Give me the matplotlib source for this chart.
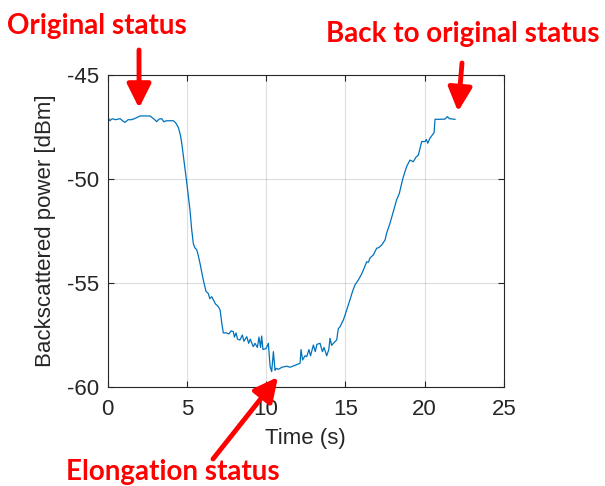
import matplotlib
matplotlib.use('Agg')
import matplotlib.pyplot as plt

# time (s) and backscattered power (dBm)
t = [0.0, 0.15, 0.3, 0.5, 0.79, 0.95, 1.1, 1.3, 1.5, 1.7, 1.84, 2.05, 2.3, 2.68, 2.9,
     3.1, 3.25, 3.42, 3.55, 3.7, 4.15, 4.3, 4.47, 4.6, 4.68, 4.85, 5.0, 5.2, 5.31, 5.41,
     5.5, 5.62, 5.7, 5.83, 5.95, 6.04, 6.21, 6.35, 6.45, 6.57, 6.67, 6.8, 6.99, 7.1, 7.2,
     7.3, 7.5, 7.65, 7.8, 7.93, 8.0, 8.1, 8.2, 8.35, 8.5, 8.6, 8.78, 8.9, 9.0, 9.19,
     9.3, 9.45, 9.55, 9.65, 9.72, 9.8, 10.0, 10.14, 10.25, 10.35, 10.46, 10.56, 10.65,
     10.77, 11.0, 11.3, 11.5, 11.72, 12.0, 12.14, 12.2, 12.3, 12.45, 12.56, 12.7, 12.8,
     12.98, 13.1, 13.2, 13.4, 13.55, 13.65, 13.82, 13.95, 14.03, 14.13, 14.24, 14.45,
     14.55, 14.66, 14.87, 15.08, 15.29, 15.45, 15.6, 15.81, 16.0, 16.13, 16.34, 16.45,
     16.55, 16.76, 16.97, 17.1, 17.29, 17.5, 17.6, 17.81, 18.02, 18.23, 18.4, 18.55,
     18.65, 18.86, 19.07, 19.28, 19.45, 19.6, 19.81, 20.02, 20.1, 20.19, 20.33, 20.59,
     20.65, 20.96, 21.28, 21.43, 21.55, 21.91]
p = [-47.0, -47.2, -47.1, -47.15, -47.1, -47.2, -47.28, -47.15, -47.15, -47.1, -47.05,
     -46.97, -46.97, -46.97, -47.1, -47.24, -47.12, -47.1, -47.25, -47.2, -47.2, -47.3,
     -47.53, -47.9, -48.28, -49.3, -50.2, -51.5, -52.45, -53.1, -53.3, -53.4, -53.6,
     -54.05, -54.5, -54.86, -55.4, -55.5, -55.75, -55.66, -55.8, -56.0, -56.14, -56.3,
     -56.9, -57.4, -57.4, -57.45, -57.3, -57.34, -57.6, -57.4, -57.7, -57.74, -57.5,
     -57.8, -57.58, -57.9, -57.7, -58.06, -57.9, -58.1, -57.6, -58.1, -57.55, -58.2,
     -58.15, -57.9, -59.0, -59.26, -58.3, -59.2, -59.1, -59.15, -59.05, -59.0, -59.05,
     -58.99, -58.9, -58.86, -58.2, -58.7, -58.5, -58.54, -58.2, -58.5, -57.98, -58.3,
     -57.95, -57.9, -58.3, -58.1, -58.5, -58.2, -57.66, -58.0, -57.9, -57.74, -57.2,
     -57.1, -56.78, -56.3, -55.8, -55.4, -55.1, -54.86, -54.6, -54.38, -53.98, -54.0,
     -53.8, -53.65, -53.33, -53.3, -53.17, -52.93, -52.6, -52.13, -51.57, -51.0, -50.69,
     -50.2, -49.9, -49.4, -49.09, -49.17, -48.95, -48.85, -48.2, -48.2, -48.1, -48.28,
     -48.04, -47.77, -47.13, -47.13, -47.12, -47.0, -47.1, -47.13]

xticks = [0, 5, 10, 15, 20, 25]
yticks = [-60, -55, -50, -45]

plt.rcParams['font.family'] = 'Liberation Sans'
plt.rcParams['axes.unicode_minus'] = False
fig = plt.figure(figsize=(6.05, 4.86), dpi=100)
ax = fig.add_axes([0.1777, 0.2037, 0.6554, 0.642])
ax.plot(t, p, color='#0072BD', lw=0.9)
ax.set_xlim(0, 25)
ax.set_ylim(-60, -45)
ax.set_xticks(xticks)
ax.set_yticks(yticks)
ax.grid(True, color='#262626', alpha=0.15, lw=0.8)
ax.tick_params(direction='in', top=True, right=True, labelsize=16, colors='#262626',
               length=4, width=0.8)
ax.tick_params(axis='x', pad=8.5)
ax.tick_params(axis='y', pad=6)
for s in ax.spines.values():
    s.set_color('#262626')
    s.set_linewidth(0.8)
ax.set_xlabel('Time (s)', fontsize=16, color='#262626', labelpad=6)
ax.set_ylabel('Backscattered power [dBm]', fontsize=16, color='#262626', labelpad=8)

red = '#FF0000'
lab = dict(color=red, fontsize=20, fontweight='bold', family='Lato')
fig.text(97 / 605, 1 - 34 / 486, 'Original status', ha='center', va='baseline', **lab)
fig.text(463 / 605, 1 - 42 / 486, 'Back to original status', ha='center', va='baseline', **lab)
fig.text(173 / 605, 1 - 480 / 486, 'Elongation status', ha='center', va='baseline', **lab)

arr = dict(arrowstyle='-|>,head_length=0.9,head_width=0.45', color=red, lw=3.5,
           shrinkA=0, shrinkB=0, mutation_scale=16)
ax.annotate('', xy=(1.99, -46.59), xycoords='data', xytext=(139, 486 - 50),
            textcoords='figure pixels', arrowprops=arr)
ax.annotate('', xy=(22.1, -46.76), xycoords='data', xytext=(462, 486 - 63),
            textcoords='figure pixels', arrowprops=arr)
ax.annotate('', xy=(10.75, -59.52), xycoords='data', xytext=(213, 486 - 459),
            textcoords='figure pixels', arrowprops=arr, annotation_clip=False)

fig.savefig('out.png', dpi=100)
